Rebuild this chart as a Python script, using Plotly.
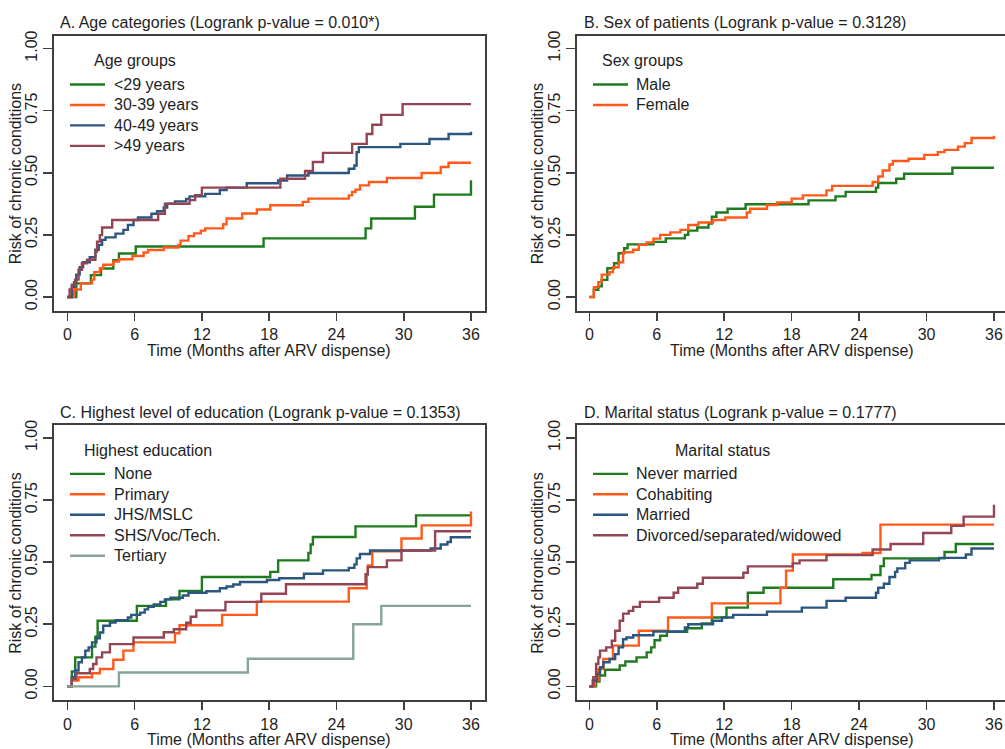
import plotly.graph_objects as go

# ---------------- DATA ----------------
# Panel A: Age categories
A_lt29_t = [0, 0.8, 2.1, 3.0, 4.1, 4.6, 6.1, 17.5, 26.6, 27.1, 31.0, 32.7, 36.0]
A_lt29_v = [0, 0.055, 0.088, 0.115, 0.148, 0.175, 0.203, 0.236, 0.276, 0.316, 0.363, 0.412, 0.47]

A_30_39_t = [0, 0.6, 1.2, 2.2, 2.4, 2.9, 3.2, 4.1, 4.6, 5.8, 6.8, 7.2, 8.6, 9.9, 10.1, 10.8, 11.3, 11.9,
             12.3, 13.9, 14.2, 15.6, 16.9, 18.1, 21.0, 21.5, 25.1, 25.4, 25.7, 26.1, 26.9, 28.5, 31.6,
             33.3, 34.0, 36.0]
A_30_39_v = [0, 0.03, 0.055, 0.07, 0.10, 0.115, 0.13, 0.143, 0.152, 0.165, 0.179, 0.189, 0.199, 0.209,
             0.227, 0.245, 0.256, 0.267, 0.276, 0.293, 0.316, 0.336, 0.352, 0.369, 0.383, 0.396, 0.409,
             0.423, 0.432, 0.449, 0.463, 0.479, 0.499, 0.523, 0.54, 0.54]

A_40_49_t = [0, 0.4, 0.6, 0.8, 1.1, 1.4, 2.0, 2.5, 2.8, 3.1, 3.4, 4.3, 5.0, 5.4, 5.9, 6.3, 7.5, 8.0, 8.6,
             8.9, 9.6, 10.6, 10.9, 12.3, 13.6, 14.2, 16.0, 18.8, 19.6, 21.5, 25.1, 25.6, 25.8, 26.0,
             29.7, 32.3, 34.0, 36.0]
A_40_49_v = [0, 0.04, 0.06, 0.09, 0.12, 0.14, 0.16, 0.19, 0.21, 0.23, 0.24, 0.255, 0.27, 0.29, 0.31,
             0.32, 0.335, 0.345, 0.36, 0.375, 0.385, 0.395, 0.405, 0.415, 0.43, 0.44, 0.458, 0.469,
             0.489, 0.499, 0.516, 0.529, 0.583, 0.603, 0.616, 0.636, 0.656, 0.665]

A_gt49_t = [0, 0.2, 0.4, 0.7, 1.0, 1.3, 1.75, 2.5, 2.65, 2.9, 3.1, 4.0, 8.1, 8.7, 10.9, 11.4, 12.0,
            19.0, 21.2, 21.9, 22.8, 25.4, 26.7, 27.2, 28.0, 29.9, 36.0]
A_gt49_v = [0, 0.03, 0.05, 0.07, 0.11, 0.136, 0.15, 0.183, 0.223, 0.249, 0.28, 0.31, 0.335, 0.375,
            0.39, 0.41, 0.44, 0.476, 0.507, 0.543, 0.58, 0.616, 0.656, 0.693, 0.733, 0.776, 0.776]

# Panel B: Sex of patients
B_male_t = [0, 0.4, 0.8, 1.1, 1.6, 2.2, 2.6, 3.1, 3.4, 5.7, 6.8, 8.5, 8.8, 9.6, 10.6, 10.9, 11.3, 12.3,
            13.9, 19.5, 21.9, 22.8, 25.5, 25.7, 27.3, 28.0, 32.3, 36.0]
B_male_v = [0, 0.029, 0.043, 0.069, 0.116, 0.136, 0.176, 0.196, 0.212, 0.222, 0.236, 0.25, 0.267,
            0.28, 0.296, 0.323, 0.34, 0.355, 0.373, 0.389, 0.405, 0.423, 0.44, 0.459, 0.476, 0.496,
            0.52, 0.52]

B_female_t = [0, 0.4, 0.8, 1.1, 1.8, 2.1, 2.6, 3.0, 3.9, 4.4, 5.1, 5.7, 6.3, 7.2, 8.1, 8.8, 9.7, 11.0,
              12.1, 14.0, 14.3, 15.8, 16.7, 18.0, 19.0, 21.1, 21.6, 25.2, 25.7, 26.1, 26.7, 27.0, 28.4,
              29.8, 31.0, 31.6, 32.8, 33.4, 34.0, 36.0]
B_female_v = [0, 0.04, 0.06, 0.09, 0.10, 0.12, 0.14, 0.18, 0.19, 0.21, 0.22, 0.235, 0.25, 0.26, 0.27,
              0.29, 0.30, 0.31, 0.32, 0.34, 0.355, 0.37, 0.38, 0.396, 0.409, 0.429, 0.447, 0.463,
              0.485, 0.509, 0.533, 0.547, 0.556, 0.572, 0.583, 0.592, 0.605, 0.619, 0.64, 0.649]

# Panel C: Highest level of education
C_none_t = [0, 0.4, 0.7, 2.2, 2.5, 2.7, 6.2, 8.8, 10.0, 12.0, 18.1, 18.8, 21.5, 21.7, 21.9, 25.7,
            31.1, 36.0]
C_none_v = [0, 0.06, 0.117, 0.16, 0.2, 0.264, 0.324, 0.35, 0.384, 0.44, 0.461, 0.507, 0.537, 0.571,
            0.601, 0.644, 0.688, 0.688]

C_primary_t = [0, 0.4, 1.0, 2.2, 2.9, 4.1, 5.0, 5.9, 9.6, 10.0, 13.8, 16.9, 25.1, 26.7, 26.8, 27.2,
               29.8, 31.6, 36.0]
C_primary_v = [0, 0.024, 0.037, 0.053, 0.07, 0.107, 0.144, 0.177, 0.214, 0.246, 0.288, 0.341, 0.395,
               0.451, 0.487, 0.544, 0.595, 0.648, 0.704]

C_jhs_t = [0, 0.4, 0.7, 1.0, 1.3, 1.6, 1.9, 2.2, 2.6, 2.9, 3.2, 3.8, 4.3, 5.4, 5.7, 6.5, 6.9, 7.2, 7.7,
           8.3, 8.7, 9.2, 10.3, 10.8, 12.4, 13.6, 14.2, 14.8, 15.4, 17.8, 18.9, 21.1, 22.8, 25.1, 25.6,
           25.8, 26.1, 27.0, 32.4, 33.3, 33.9, 34.2, 36.0]
C_jhs_v = [0, 0.037, 0.064, 0.097, 0.117, 0.144, 0.157, 0.177, 0.194, 0.217, 0.244, 0.257, 0.266,
           0.277, 0.288, 0.297, 0.31, 0.32, 0.33, 0.34, 0.35, 0.357, 0.366, 0.377, 0.383, 0.395, 0.402,
           0.41, 0.42, 0.428, 0.435, 0.453, 0.467, 0.477, 0.491, 0.515, 0.533, 0.547, 0.555, 0.571,
           0.581, 0.6, 0.6]

C_shs_t = [0, 0.4, 0.8, 2.0, 2.3, 2.6, 3.1, 3.8, 5.9, 8.6, 9.5, 10.6, 11.0, 11.5, 14.1, 17.3, 19.5,
           26.6, 26.8, 28.5, 29.8, 32.8, 36.0]
C_shs_v = [0, 0.03, 0.053, 0.07, 0.09, 0.117, 0.137, 0.17, 0.197, 0.218, 0.23, 0.256, 0.28, 0.306,
           0.34, 0.373, 0.411, 0.451, 0.48, 0.507, 0.547, 0.624, 0.624]

C_tert_t = [0, 4.6, 16.1, 25.5, 28.0, 36.0]
C_tert_v = [0, 0.056, 0.111, 0.25, 0.324, 0.324]

# Panel D: Marital status
D_never_t = [0, 0.6, 0.9, 1.4, 2.7, 3.2, 4.2, 5.1, 5.5, 5.8, 6.3, 6.9, 8.7, 10.0, 10.9, 12.2, 14.1,
             15.5, 21.7, 25.1, 25.9, 26.2, 31.6, 32.6, 36.0]
D_never_v = [0, 0.02, 0.044, 0.067, 0.084, 0.1, 0.117, 0.137, 0.157, 0.186, 0.204, 0.22, 0.234,
             0.253, 0.277, 0.317, 0.377, 0.397, 0.431, 0.448, 0.484, 0.515, 0.541, 0.573, 0.573]

D_cohab_t = [0, 0.5, 0.8, 1.25, 2.1, 4.4, 7.0, 10.9, 17.0, 17.5, 18.1, 24.3, 25.9, 36.0]
D_cohab_v = [0, 0.024, 0.07, 0.11, 0.164, 0.224, 0.277, 0.334, 0.397, 0.466, 0.531, 0.537, 0.651,
             0.651]

D_married_t = [0, 0.3, 0.65, 0.95, 1.25, 1.8, 2.3, 2.6, 3.0, 3.3, 3.9, 5.7, 8.5, 8.8, 11.0, 11.8,
               12.8, 15.8, 18.9, 21.1, 22.8, 25.5, 25.7, 26.2, 26.7, 27.2, 27.4, 28.1, 28.5, 31.1,
               33.5, 34.0, 36.0]
D_married_v = [0, 0.024, 0.05, 0.077, 0.097, 0.11, 0.13, 0.157, 0.19, 0.197, 0.206, 0.221, 0.237,
               0.25, 0.264, 0.277, 0.288, 0.301, 0.317, 0.344, 0.357, 0.377, 0.397, 0.413, 0.44,
               0.461, 0.475, 0.497, 0.507, 0.517, 0.531, 0.555, 0.555]

D_div_t = [0, 0.35, 0.6, 0.8, 0.95, 1.5, 2.0, 2.3, 2.7, 3.0, 3.5, 3.9, 4.5, 6.2, 7.5, 7.9, 9.6, 10.1,
           13.7, 14.1, 18.1, 18.7, 21.1, 25.2, 26.8, 29.7, 32.2, 33.3, 36.0]
D_div_v = [0, 0.037, 0.09, 0.117, 0.144, 0.157, 0.184, 0.224, 0.264, 0.293, 0.304, 0.32, 0.34,
           0.357, 0.377, 0.397, 0.413, 0.437, 0.457, 0.483, 0.495, 0.507, 0.528, 0.551, 0.573,
           0.617, 0.646, 0.683, 0.731]

# Labels
panel_titles = [
    "A. Age categories (Logrank p-value = 0.010*)",
    "B. Sex of patients (Logrank p-value = 0.3128)",
    "C. Highest level of education (Logrank p-value = 0.1353)",
    "D. Marital status (Logrank p-value = 0.1777)",
]
legend_titles = ["Age groups", "Sex groups", "Highest education", "Marital status"]
A_names = ["<29 years", "30-39 years", "40-49 years", ">49 years"]
B_names = ["Male", "Female"]
C_names = ["None", "Primary", "JHS/MSLC", "SHS/Voc/Tech.", "Tertiary"]
D_names = ["Never married", "Cohabiting", "Married", "Divorced/separated/widowed"]
x_tick_vals = [0, 6, 12, 18, 24, 30, 36]
y_tick_vals = [0, 0.25, 0.5, 0.75, 1.0]
y_tick_text = ["0.00", "0.25", "0.50", "0.75", "1.00"]
x_title = "Time (Months after ARV dispense)"
y_title = "Risk of chronic conditions"

# ---------------- STYLE ----------------
W, H = 1005, 749
GREEN = "#1e7b1e"
ORANGE = "#ff5a1a"
BLUE = "#2b5680"
MAROON = "#934553"
GREYG = "#87a597"
FRAME = "#3f3f3f"
TXT = "#1e1e1e"
FONT = "Liberation Sans, Arial, sans-serif"
FS = 16


def fx(p):
    return p / W


def fy(p):
    return 1 - p / H


panels = [
    dict(ax="", series=[(A_names[0], A_lt29_t, A_lt29_v, GREEN), (A_names[1], A_30_39_t, A_30_39_v, ORANGE),
                        (A_names[2], A_40_49_t, A_40_49_v, BLUE), (A_names[3], A_gt49_t, A_gt49_v, MAROON)],
         box=(54, 485, 31, 308), xr=[-1.19, 37.25], mirror_y=True,
         title_xy=(58, 18), xt_xy=(269, 347.5), yt_xy=(15.5, 170),
         leg=dict(title_cx=135, title_y=56, lx0=70, lx1=105, tx=112, rows_y0=80)),
    dict(ax="2", series=[(B_names[0], B_male_t, B_male_v, GREEN), (B_names[1], B_female_t, B_female_v, ORANGE)],
         box=(577, 1005, 31, 308), xr=[-1.10, 36.98], mirror_y=False,
         title_xy=(582, 18), xt_xy=(792, 347.5), yt_xy=(537.5, 170),
         leg=dict(title_cx=642, title_y=56, lx0=593, lx1=628, tx=634, rows_y0=80)),
    dict(ax="3", series=[(C_names[0], C_none_t, C_none_v, GREEN), (C_names[1], C_primary_t, C_primary_v, ORANGE),
                         (C_names[2], C_jhs_t, C_jhs_v, BLUE), (C_names[3], C_shs_t, C_shs_v, MAROON),
                         (C_names[4], C_tert_t, C_tert_v, GREYG)],
         box=(54, 485, 423, 700), xr=[-1.19, 37.25], mirror_y=True,
         title_xy=(58, 410), xt_xy=(269, 739.5), yt_xy=(15.5, 562),
         leg=dict(title_cx=148, title_y=448, lx0=70, lx1=105, tx=112, rows_y0=472)),
    dict(ax="4", series=[(D_names[0], D_never_t, D_never_v, GREEN), (D_names[1], D_cohab_t, D_cohab_v, ORANGE),
                         (D_names[2], D_married_t, D_married_v, BLUE), (D_names[3], D_div_t, D_div_v, MAROON)],
         box=(577, 1005, 423, 700), xr=[-1.10, 36.98], mirror_y=False,
         title_xy=(582, 410), xt_xy=(792, 739.5), yt_xy=(537.5, 562),
         leg=dict(title_cx=722, title_y=448, lx0=593, lx1=628, tx=634, rows_y0=472)),
]

ROW_STEP = 20.6

fig = go.Figure()
layout = dict(width=W, height=H, autosize=False, margin=dict(l=0, r=0, t=0, b=0),
              paper_bgcolor="white", plot_bgcolor="white", showlegend=False,
              font=dict(family=FONT, size=FS, color=TXT))
shapes = []
annotations = []

for i, p in enumerate(panels):
    ax = p["ax"]
    x0, x1, y0, y1 = p["box"]
    xname = "xaxis" + ax
    yname = "yaxis" + ax
    layout[xname] = dict(domain=[fx(x0), min(fx(x1), 1.0)], range=p["xr"], anchor="y" + ax,
                         tickvals=x_tick_vals, ticks="outside", ticklen=8, tickwidth=1.6,
                         tickcolor=FRAME, showline=True, linecolor=FRAME, linewidth=2,
                         mirror=True, showgrid=False, zeroline=False,
                         tickfont=dict(size=FS, color=TXT, family=FONT))
    layout[yname] = dict(domain=[fy(y1), fy(y0)], range=[-0.056, 1.051], anchor="x" + ax,
                         tickvals=y_tick_vals, ticktext=y_tick_text, tickangle=-90,
                         ticks="outside", ticklen=9, tickwidth=1.6, tickcolor=FRAME,
                         showline=True, linecolor=FRAME, linewidth=2,
                         mirror=p["mirror_y"], showgrid=False, zeroline=False,
                         tickfont=dict(size=FS, color=TXT, family=FONT))
    for name, t, v, col in p["series"]:
        fig.add_trace(go.Scatter(x=t, y=v, mode="lines", name=name,
                                 line=dict(color=col, width=2.4, shape="hv"),
                                 xaxis="x" + ax, yaxis="y" + ax, showlegend=False,
                                 hoverinfo="skip"))
    # panel title
    tx, ty = p["title_xy"]
    annotations.append(dict(text=panel_titles[i], x=fx(tx), y=fy(ty), xref="paper", yref="paper",
                            xanchor="left", yanchor="middle", showarrow=False,
                            font=dict(size=FS, color=TXT, family=FONT)))
    # axis titles
    ax_x, ax_y = p["xt_xy"]
    annotations.append(dict(text=x_title, x=fx(ax_x), y=fy(ax_y), xref="paper", yref="paper",
                            xanchor="center", yanchor="middle", showarrow=False,
                            font=dict(size=FS, color=TXT, family=FONT)))
    ay_x, ay_y = p["yt_xy"]
    annotations.append(dict(text=y_title, x=fx(ay_x), y=fy(ay_y), xref="paper", yref="paper",
                            xanchor="center", yanchor="middle", showarrow=False, textangle=-90,
                            font=dict(size=FS, color=TXT, family=FONT)))
    # legend (drawn inside the plot region)
    lg = p["leg"]
    annotations.append(dict(text=legend_titles[i], x=fx(lg["title_cx"]), y=fy(lg["title_y"]),
                            xref="paper", yref="paper", xanchor="center", yanchor="middle",
                            showarrow=False, font=dict(size=FS, color=TXT, family=FONT)))
    for k, (name, t, v, col) in enumerate(p["series"]):
        ry = lg["rows_y0"] + k * ROW_STEP
        shapes.append(dict(type="line", xref="paper", yref="paper", x0=fx(lg["lx0"]), x1=fx(lg["lx1"]),
                           y0=fy(ry), y1=fy(ry), line=dict(color=col, width=2.4)))
        annotations.append(dict(text=name, x=fx(lg["tx"]), y=fy(ry), xref="paper", yref="paper",
                                xanchor="left", yanchor="middle", showarrow=False,
                                font=dict(size=FS, color=TXT, family=FONT)))

layout["shapes"] = shapes
layout["annotations"] = annotations
fig.update_layout(**layout)
fig.write_html("out.html", config={"displayModeBar": False, "staticPlot": True},
               post_script="document.body.style.margin='0';document.body.style.overflow='hidden';")
